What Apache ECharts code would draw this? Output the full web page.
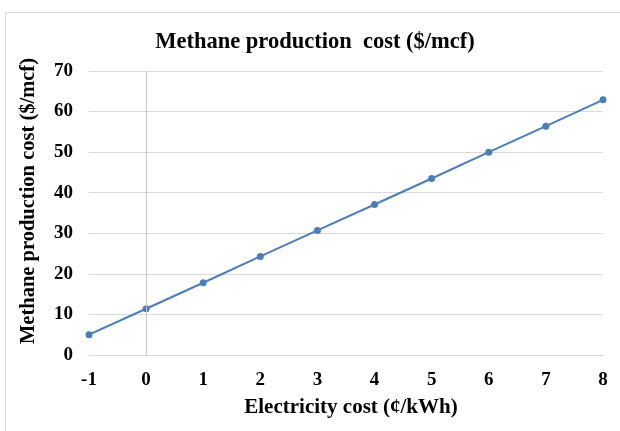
<!DOCTYPE html>
<html>
<head>
<meta charset="utf-8">
<script src="https://cdn.jsdelivr.net/npm/echarts@6/dist/echarts.min.js"></script>
<style>
  html, body { margin: 0; padding: 0; background: #fff; }
  #frame {
    position: absolute; left: 5px; top: 12px; width: 640px; height: 440px;
    border: 1px solid #d9d9d9; box-sizing: border-box;
  }
  #chart { position: absolute; left: 0; top: 0; width: 620px; height: 431px; }
</style>
</head>
<body>
<div id="frame"></div>
<div id="chart"></div>
<script>
const electricityCost = [-1, 0, 1, 2, 3, 4, 5, 6, 7, 8];
const methaneCost = [5.0, 11.4, 17.8, 24.3, 30.7, 37.1, 43.5, 50.0, 56.4, 62.9];

const chart = echarts.init(document.getElementById("chart"));
const serif = "'Liberation Serif', 'Times New Roman', serif";

chart.setOption({
  animation: false,
  title: {
    text: "Methane production  cost ($/mcf)",
    left: 310,
    top: 26,
    textAlign: "center",
    textStyle: { fontFamily: serif, fontSize: 22.5, fontWeight: "bold", color: "#000" },
  },
  grid: { left: 89, right: 17, top: 71, bottom: 76 },
  xAxis: {
    type: "value",
    min: -1,
    max: 8,
    interval: 1,
    name: "Electricity cost (¢/kWh)",
    nameLocation: "middle",
    nameGap: 42,
    nameTextStyle: {
      fontFamily: serif, fontSize: 21, fontWeight: "bold", color: "#000",
      padding: [0, 0, 0, 10],
    },
    axisLine: { onZero: false, lineStyle: { color: "#d9d9d9" } },
    axisTick: { show: false },
    splitLine: { show: false },
    axisLabel: { fontFamily: serif, fontSize: 19, fontWeight: "bold", color: "#000", margin: 16 },
  },
  yAxis: {
    type: "value",
    min: 0,
    max: 70,
    interval: 10,
    name: "Methane production cost ($/mcf)",
    nameLocation: "middle",
    nameGap: 50,
    nameTextStyle: {
      fontFamily: serif, fontSize: 20.5, fontWeight: "bold", color: "#000",
      padding: [0, 0, 0, 24],
    },
    axisLine: { show: false },
    axisTick: { show: false },
    splitLine: { lineStyle: { color: "#d9d9d9" } },
    axisLabel: { fontFamily: serif, fontSize: 19, fontWeight: "bold", color: "#000", margin: 16 },
  },
  series: [
    {
      type: "line",
      data: electricityCost.map((x, i) => [x, methaneCost[i]]),
      symbol: "circle",
      symbolSize: 7,
      lineStyle: { color: "#4a7ebb", width: 2 },
      itemStyle: { color: "#4a7ebb" },
      markLine: {
        silent: true,
        symbol: "none",
        label: { show: false },
        lineStyle: { color: "#c8c8c8", type: "solid", width: 1 },
        data: [{ xAxis: 0 }],
      },
    },
  ],
});
</script>
</body>
</html>
